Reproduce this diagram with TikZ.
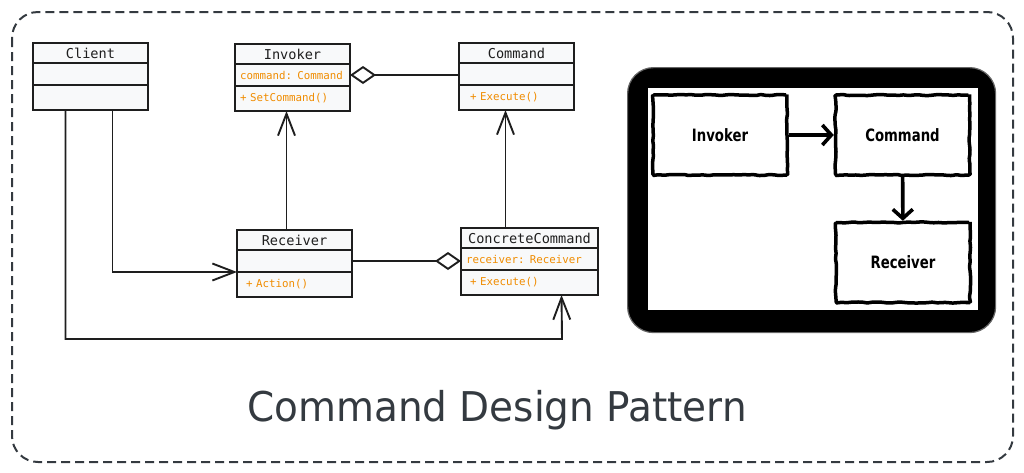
\documentclass[tikz,border=0pt]{standalone}
\usepackage{fontspec}
\setmonofont{DejaVu Sans Mono}
\newfontfamily\handfont{DejaVu Sans}
\usetikzlibrary{arrows.meta,positioning,decorations.pathmorphing}
\definecolor{ink}{HTML}{1E1E1E}
\definecolor{boxfill}{HTML}{F8F9FA}
\definecolor{member}{HTML}{F08C00}
\definecolor{framegray}{HTML}{343A40}

\begin{document}
\begin{tikzpicture}[x=1pt,y=-1pt,
    head/.style={draw=ink, line width=1.9pt, fill=boxfill, minimum width=#1, minimum height=20pt,
        inner sep=0pt, outer sep=0pt, text=ink, font=\ttfamily\fontsize{13.6}{15}\selectfont},
    part/.style={draw=ink, line width=1.9pt, fill=boxfill, text width=#1, inner xsep=5pt, inner ysep=0pt,
        outer sep=0pt, align=left, text=member, font=\ttfamily\fontsize{10.8}{12}\selectfont},
    conn/.style={draw=ink, line width=1.9pt},
    barb/.style={-{Straight Barb[length=22pt,width=17pt]}},
    sketch/.style={draw=black, line width=3.5pt, fill=white, decorate,
        decoration={random steps,segment length=5pt,amplitude=0.6pt}, rounded corners=1pt,
        font=\handfont\bfseries\fontsize{17}{20}\selectfont},
    bold arrow/.style={line width=3.6pt, -{Straight Barb[length=9pt,width=20pt]}}
]
    \useasboundingbox (0,0) rectangle (1024,472);

    % outer frame
    \draw[framegray, line width=2pt, dash pattern=on 9pt off 5pt, rounded corners=26pt] (12,12) rectangle (1013,462);

    % Client
    \node[head=115pt, anchor=north west] (client) at (33,43) {Client};
    \node[part=105pt, minimum height=22pt, below=0pt of client] (client-a) {};
    \node[part=105pt, minimum height=25pt, below=0pt of client-a] (client-m) {};

    % Invoker
    \node[head=115pt, anchor=north west] (invoker) at (235,44) {Invoker};
    \node[part=105pt, minimum height=22pt, below=0pt of invoker] (invoker-a) {command: Command};
    \node[part=105pt, minimum height=25pt, below=0pt of invoker-a] (invoker-m) {+ SetCommand()};

    % Command
    \node[head=115pt, anchor=north west] (command) at (459,43) {Command};
    \node[part=105pt, minimum height=22pt, below=0pt of command] (command-a) {};
    \node[part=105pt, minimum height=25pt, below=0pt of command-a] (command-m) {\hspace{6pt}+ Execute()};

    % Receiver
    \node[head=115pt, anchor=north west] (receiver) at (237,230) {Receiver};
    \node[part=105pt, minimum height=22pt, below=0pt of receiver] (receiver-a) {};
    \node[part=105pt, minimum height=25pt, below=0pt of receiver-a] (receiver-m) {\hspace{4pt}+ Action()};

    % ConcreteCommand
    \node[head=137pt, anchor=north west] (cc) at (461,228) {ConcreteCommand};
    \node[part=127pt, minimum height=22pt, below=0pt of cc] (cc-a) {receiver: Receiver};
    \node[part=127pt, minimum height=25pt, below=0pt of cc-a] (cc-m) {\hspace{4pt}+ Execute()};

    % associations
    \draw[conn, {Diamond[open,length=26pt,width=18pt]}-] (invoker-a.east) -- (invoker-a.east -| command.west);
    \draw[conn, -{Diamond[open,length=26pt,width=18pt]}] (receiver-a.east) -- (receiver-a.east -| cc.west);
    \draw[conn, barb] ([xshift=-8pt]receiver.north) -- ([xshift=-6pt]invoker-m.south);
    \draw[conn, barb] ([xshift=-24pt]cc.north) -- ([xshift=-11pt]command-m.south);
    \draw[conn, barb] ([xshift=22pt]client-m.south) |- (receiver-a.south west);
    \coordinate (low) at (562,339);
    \draw[conn, barb] ([xshift=-25pt]client-m.south) |- (low) -- ([xshift=32pt]cc-m.south);

    % right panel
    \node[draw=black!60, line width=1.2pt, fill=black, rounded corners=26pt, minimum width=368pt,
        minimum height=265pt, anchor=north west] (tablet) at (627,67) {};
    \node[fill=white, minimum width=330pt, minimum height=222pt, inner sep=0pt, anchor=north west] (screen) at (648,88) {};
    \node[sketch, minimum width=134pt, minimum height=80pt] (s-invoker) at (720,135) {\scalebox{0.78}[1]{Invoker}};
    \node[sketch, minimum width=134pt, minimum height=80pt] (s-command) at (902.5,135) {\scalebox{0.78}[1]{Command}};
    \node[sketch, minimum width=134pt, minimum height=80pt] (s-receiver) at (903,262.5) {\scalebox{0.78}[1]{Receiver}};
    \draw[bold arrow] (s-invoker) -- (s-command);
    \draw[bold arrow] (s-command) -- (s-receiver);

    % title
    \node[anchor=base, text=framegray, font=\handfont\fontsize{41}{48}\selectfont] (title) at (497,421)
        {\scalebox{0.95}[1]{Command Design Pattern}};
\end{tikzpicture}
\end{document}
